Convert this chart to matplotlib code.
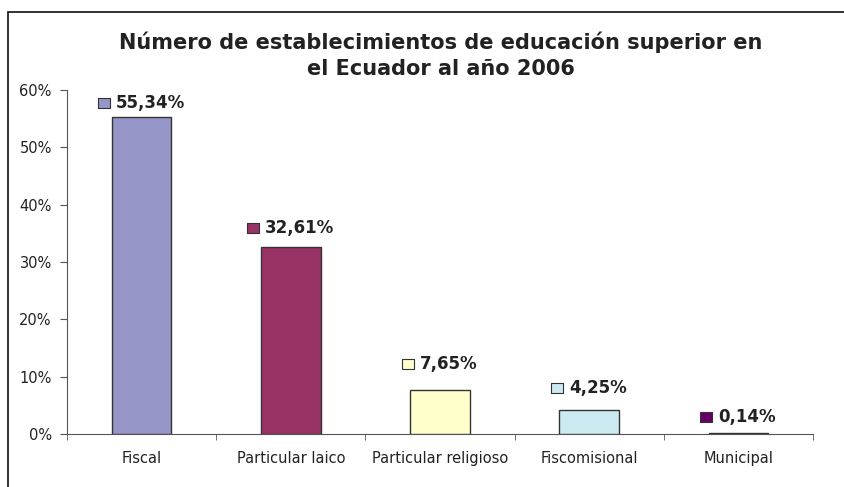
import matplotlib
matplotlib.use("Agg")
import matplotlib.pyplot as plt
from matplotlib.patches import Rectangle
import numpy as np

categories = ["Fiscal", "Particular laico", "Particular religioso", "Fiscomisional", "Municipal"]
values = [55.34, 32.61, 7.65, 4.25, 0.14]
labels = ["55,34%", "32,61%", "7,65%", "4,25%", "0,14%"]
colors = ["#9595C8", "#993366", "#FFFFCC", "#CCEAF2", "#660066"]
yticks = [0, 10, 20, 30, 40, 50, 60]
ytick_labels = ["0%", "10%", "20%", "30%", "40%", "50%", "60%"]
# gap (px) between bar top and label centre, as placed in the original chart
label_gap_px = [14, 19, 26, 22, 16]

plt.rcParams['font.family'] = ['DejaVu Sans']

W, H = 845, 487
fig = plt.figure(figsize=(W / 100, H / 100), dpi=100)

# Outer chart border (top and left visible, extends beyond image)
fig.add_artist(Rectangle((8 / W, -0.05), 1.1, (H - 12) / H + 0.05, transform=fig.transFigure,
                         fill=False, edgecolor="#222222", linewidth=1.3))

ax_left, ax_right = 67, 813
ax_top, ax_bottom = 90, 434
ax = fig.add_axes([ax_left / W, 1 - ax_bottom / H, (ax_right - ax_left) / W, (ax_bottom - ax_top) / H])

x = np.arange(len(categories))
ax.bar(x, values, width=0.4, color=colors, edgecolor="#333333", linewidth=1.0, zorder=3)
ax.set_xlim(-0.5, len(categories) - 0.5)
ax.set_ylim(0, 60)

ax.set_yticks(yticks)
ax.set_yticklabels(ytick_labels, fontsize=10.5, color="#222222")
ax.set_xticks(x)
ax.set_xticklabels(categories, fontsize=10.5, color="#222222")
ax.tick_params(axis='x', length=0, pad=12)
ax.set_xticks(np.arange(-0.5, len(categories)), minor=True)
ax.tick_params(axis='x', which='minor', length=4, direction='out', color="#555555")
ax.tick_params(axis='y', length=5, direction='out', color="#555555", pad=6)

for s in ["top", "right"]:
    ax.spines[s].set_visible(False)
ax.spines["left"].set_color("#555555")
ax.spines["bottom"].set_color("#555555")

box_marker = [(-1, -0.85), (1, -0.85), (1, 0.85), (-1, 0.85), (-1, -0.85)]

fig.canvas.draw()
renderer = fig.canvas.get_renderer()
for xi, v, lab, c, g in zip(x, values, labels, colors, label_gap_px):
    t = ax.annotate(lab, xy=(xi, v), xytext=(6.5, g * 0.72), textcoords="offset points",
                    ha="center", va="center", fontsize=12, fontweight="bold", color="#222222")
    bb = t.get_window_extent(renderer)
    px = bb.x0 - 12.5
    py = (bb.y0 + bb.y1) / 2
    dx, dy = ax.transData.inverted().transform((px, py))
    ax.plot([dx], [dy], marker=box_marker, markersize=9, markerfacecolor=c,
            markeredgecolor="#333333", markeredgewidth=0.8, clip_on=False, zorder=5)

fig.text(441 / W, 1 - 55 / H, "Número de establecimientos de educación superior en\nel Ecuador al año 2006",
         ha="center", va="center", fontsize=15, fontweight="bold", color="#222222", linespacing=1.4)

fig.savefig("out.png", dpi=100)
